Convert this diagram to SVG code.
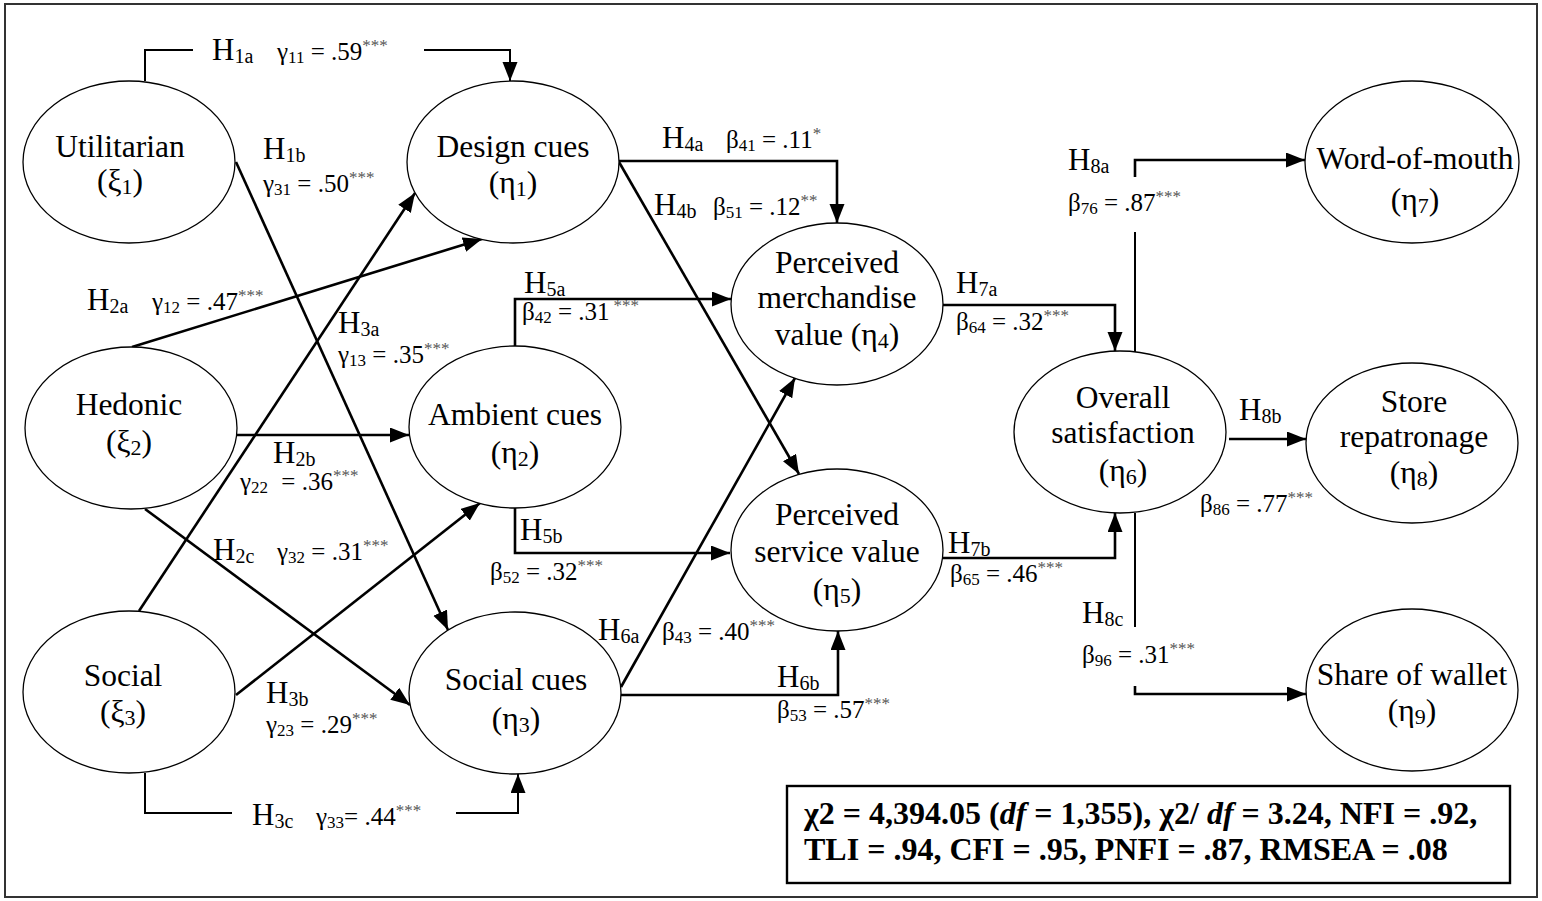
<svg xmlns="http://www.w3.org/2000/svg" width="1542" height="901" viewBox="0 0 1542 901">
<style>
text{font-family:"Liberation Serif","Times New Roman",serif;fill:#000}
.n{font-size:31.5px;text-anchor:middle}
.ns{font-size:22px}
.h{font-size:31px}
.hs{font-size:20px}
.c{font-size:25px}
.cs{font-size:17px}
.st{font-size:17px;fill:#555}
.b{font-size:32px;font-weight:bold}
ellipse{fill:#fff;stroke:#000;stroke-width:1.3}
.k{fill:none;stroke:#000;stroke-width:2.6}
.t{fill:none;stroke:#000;stroke-width:2}
.a{marker-end:url(#ah)}
</style>
<defs>
<marker id="ah" markerUnits="userSpaceOnUse" markerWidth="22" markerHeight="16" refX="19" refY="7.5" orient="auto"><path d="M0,0 L19,7.5 L0,15 z" fill="#000"/></marker>
</defs>
<rect x="5" y="4" width="1532" height="893" fill="#fff" stroke="#333" stroke-width="2"/>

<g id="connectors">
<path class="t" d="M145,81 V50 H193"/>
<path class="t a" d="M424,50 H510 V81"/>
<path class="k a" d="M236,162 L448,630"/>
<path class="k a" d="M132,347 L482,239"/>
<path class="k a" d="M139,611 L415,193"/>
<path class="k a" d="M237,435 H409"/>
<path class="k a" d="M145,509 L410,705"/>
<path class="k a" d="M236,695 L480,503"/>
<path class="t" d="M145,773 V813 H232"/>
<path class="t a" d="M456,813 H518 V774"/>
<path class="k a" d="M619,161 H837 V223"/>
<path class="k a" d="M619,162 L799,474"/>
<path class="k a" d="M515,346 V299 H731"/>
<path class="k a" d="M515,508 V553 H730"/>
<path class="k a" d="M621,687 L795,378"/>
<path class="k a" d="M621,695 H838 V631"/>
<path class="k a" d="M943,305 H1115 V351"/>
<path class="k a" d="M943,558 H1115 V513"/>
<path class="t" d="M1135,232 V352"/>
<path class="k a" d="M1135,177 V160 H1305"/>
<path class="k a" d="M1229,439 H1306"/>
<path class="t" d="M1135,513 V627"/>
<path class="k a" d="M1135,686 V694 H1306"/>
</g>

<g id="labels">
<text class="h" x="212" y="60">H<tspan class="hs" dy="3">1a</tspan></text>
<text class="c" x="277" y="60">γ<tspan class="cs" dy="3">11</tspan><tspan dy="-3"> = .59</tspan><tspan class="st" dy="-9">***</tspan></text>
<text class="h" x="263" y="159">H<tspan class="hs" dy="3">1b</tspan></text>
<text class="c" x="263" y="192">γ<tspan class="cs" dy="3">31</tspan><tspan dy="-3"> = .50</tspan><tspan class="st" dy="-9">***</tspan></text>
<text class="h" x="87" y="310">H<tspan class="hs" dy="3">2a</tspan></text>
<text class="c" x="152" y="310">γ<tspan class="cs" dy="3">12</tspan><tspan dy="-3"> = .47</tspan><tspan class="st" dy="-9">***</tspan></text>
<text class="h" x="338" y="333">H<tspan class="hs" dy="3">3a</tspan></text>
<text class="c" x="338" y="363">γ<tspan class="cs" dy="3">13</tspan><tspan dy="-3"> = .35</tspan><tspan class="st" dy="-9">***</tspan></text>
<text class="h" x="273" y="463">H<tspan class="hs" dy="3">2b</tspan></text>
<text class="c" x="240" y="490">γ<tspan class="cs" dy="3">22</tspan><tspan dy="-3" dx="7"> = .36</tspan><tspan class="st" dy="-9">***</tspan></text>
<text class="h" x="213" y="560">H<tspan class="hs" dy="3">2c</tspan></text>
<text class="c" x="277" y="560">γ<tspan class="cs" dy="3">32</tspan><tspan dy="-3"> = .31</tspan><tspan class="st" dy="-9">***</tspan></text>
<text class="h" x="266" y="703">H<tspan class="hs" dy="3">3b</tspan></text>
<text class="c" x="266" y="733">γ<tspan class="cs" dy="3">23</tspan><tspan dy="-3"> = .29</tspan><tspan class="st" dy="-9">***</tspan></text>
<text class="h" x="252" y="825">H<tspan class="hs" dy="3">3c</tspan></text>
<text class="c" x="316" y="825">γ<tspan class="cs" dy="3">33</tspan><tspan dy="-3">= .44</tspan><tspan class="st" dy="-9">***</tspan></text>
<text class="h" x="662" y="148">H<tspan class="hs" dy="3">4a</tspan></text>
<text class="c" x="726" y="148">β<tspan class="cs" dy="3">41</tspan><tspan dy="-3"> = .11</tspan><tspan class="st" dy="-9">*</tspan></text>
<text class="h" x="654" y="215">H<tspan class="hs" dy="3">4b</tspan></text>
<text class="c" x="713" y="215">β<tspan class="cs" dy="3">51</tspan><tspan dy="-3"> = .12</tspan><tspan class="st" dy="-9">**</tspan></text>
<text class="h" x="524" y="293">H<tspan class="hs" dy="3">5a</tspan></text>
<text class="c" x="522" y="320">β<tspan class="cs" dy="3">42</tspan><tspan dy="-3"> = .31</tspan><tspan class="st" dy="-9" dx="4">***</tspan></text>
<text class="h" x="520" y="540">H<tspan class="hs" dy="3">5b</tspan></text>
<text class="c" x="490" y="580">β<tspan class="cs" dy="3">52</tspan><tspan dy="-3"> = .32</tspan><tspan class="st" dy="-9">***</tspan></text>
<text class="h" x="598" y="640">H<tspan class="hs" dy="3">6a</tspan></text>
<text class="c" x="662" y="640">β<tspan class="cs" dy="3">43</tspan><tspan dy="-3"> = .40</tspan><tspan class="st" dy="-9">***</tspan></text>
<text class="h" x="777" y="687">H<tspan class="hs" dy="3">6b</tspan></text>
<text class="c" x="777" y="718">β<tspan class="cs" dy="3">53</tspan><tspan dy="-3"> = .57</tspan><tspan class="st" dy="-9">***</tspan></text>
<text class="h" x="956" y="293">H<tspan class="hs" dy="3">7a</tspan></text>
<text class="c" x="956" y="330">β<tspan class="cs" dy="3">64</tspan><tspan dy="-3"> = .32</tspan><tspan class="st" dy="-9">***</tspan></text>
<text class="h" x="948" y="553">H<tspan class="hs" dy="3">7b</tspan></text>
<text class="c" x="950" y="582">β<tspan class="cs" dy="3">65</tspan><tspan dy="-3"> = .46</tspan><tspan class="st" dy="-9">***</tspan></text>
<text class="h" x="1068" y="170">H<tspan class="hs" dy="3">8a</tspan></text>
<text class="c" x="1068" y="211">β<tspan class="cs" dy="3">76</tspan><tspan dy="-3"> = .87</tspan><tspan class="st" dy="-9">***</tspan></text>
<text class="h" x="1239" y="420">H<tspan class="hs" dy="3">8b</tspan></text>
<text class="c" x="1200" y="512">β<tspan class="cs" dy="3">86</tspan><tspan dy="-3"> = .77</tspan><tspan class="st" dy="-9">***</tspan></text>
<text class="h" x="1082" y="623">H<tspan class="hs" dy="3">8c</tspan></text>
<text class="c" x="1082" y="663">β<tspan class="cs" dy="3">96</tspan><tspan dy="-3"> = .31</tspan><tspan class="st" dy="-9">***</tspan></text>
</g>

<g id="utilitarian">
<ellipse cx="129" cy="162" rx="106" ry="81"/>
<text class="n" x="120" y="157">Utilitarian</text>
<text class="n" x="120" y="191">(ξ<tspan class="ns" dy="3">1</tspan><tspan dy="-3">)</tspan></text>
</g>
<g id="hedonic">
<ellipse cx="131" cy="428" rx="106" ry="81"/>
<text class="n" x="129" y="415">Hedonic</text>
<text class="n" x="129" y="452">(ξ<tspan class="ns" dy="3">2</tspan><tspan dy="-3">)</tspan></text>
</g>
<g id="social">
<ellipse cx="129" cy="692" rx="106" ry="81"/>
<text class="n" x="123" y="686">Social</text>
<text class="n" x="123" y="722">(ξ<tspan class="ns" dy="3">3</tspan><tspan dy="-3">)</tspan></text>
</g>
<g id="design-cues">
<ellipse cx="513" cy="162" rx="106" ry="81"/>
<text class="n" x="513" y="157">Design cues</text>
<text class="n" x="513" y="193">(η<tspan class="ns" dy="3">1</tspan><tspan dy="-3">)</tspan></text>
</g>
<g id="ambient-cues">
<ellipse cx="515" cy="427" rx="106" ry="81"/>
<text class="n" x="515" y="425">Ambient cues</text>
<text class="n" x="515" y="463">(η<tspan class="ns" dy="3">2</tspan><tspan dy="-3">)</tspan></text>
</g>
<g id="social-cues">
<ellipse cx="515" cy="693" rx="106" ry="81"/>
<text class="n" x="516" y="690">Social cues</text>
<text class="n" x="516" y="729">(η<tspan class="ns" dy="3">3</tspan><tspan dy="-3">)</tspan></text>
</g>
<g id="merchandise-value">
<ellipse cx="837" cy="304" rx="106" ry="81"/>
<text class="n" x="837" y="273">Perceived</text>
<text class="n" x="837" y="308">merchandise</text>
<text class="n" x="837" y="345">value (η<tspan class="ns" dy="3">4</tspan><tspan dy="-3">)</tspan></text>
</g>
<g id="service-value">
<ellipse cx="837" cy="550" rx="106" ry="81"/>
<text class="n" x="837" y="525">Perceived</text>
<text class="n" x="837" y="562">service value</text>
<text class="n" x="837" y="600">(η<tspan class="ns" dy="3">5</tspan><tspan dy="-3">)</tspan></text>
</g>
<g id="overall-satisfaction">
<ellipse cx="1120" cy="432" rx="106" ry="81"/>
<text class="n" x="1123" y="408">Overall</text>
<text class="n" x="1123" y="443">satisfaction</text>
<text class="n" x="1123" y="481">(η<tspan class="ns" dy="3">6</tspan><tspan dy="-3">)</tspan></text>
</g>
<g id="word-of-mouth">
<ellipse cx="1412" cy="162" rx="107" ry="81"/>
<text class="n" x="1415" y="169">Word-of-mouth</text>
<text class="n" x="1415" y="210">(η<tspan class="ns" dy="3">7</tspan><tspan dy="-3">)</tspan></text>
</g>
<g id="store-repatronage">
<ellipse cx="1412" cy="443" rx="106" ry="80"/>
<text class="n" x="1414" y="412">Store</text>
<text class="n" x="1414" y="447">repatronage</text>
<text class="n" x="1414" y="483">(η<tspan class="ns" dy="3">8</tspan><tspan dy="-3">)</tspan></text>
</g>
<g id="share-of-wallet">
<ellipse cx="1412" cy="690" rx="106" ry="81"/>
<text class="n" x="1412" y="685">Share of wallet</text>
<text class="n" x="1412" y="721">(η<tspan class="ns" dy="3">9</tspan><tspan dy="-3">)</tspan></text>
</g>

<g id="fit-indices">
<rect x="787" y="786" width="723" height="97" fill="#fff" stroke="#000" stroke-width="2.4"/>
<text class="b" x="804" y="824">χ2 = 4,394.05 (<tspan font-style="italic">df</tspan> = 1,355), χ2/ <tspan font-style="italic">df</tspan> = 3.24, NFI = .92,</text>
<text class="b" x="804" y="860">TLI = .94, CFI = .95, PNFI = .87, RMSEA = .08</text>
</g>
</svg>
